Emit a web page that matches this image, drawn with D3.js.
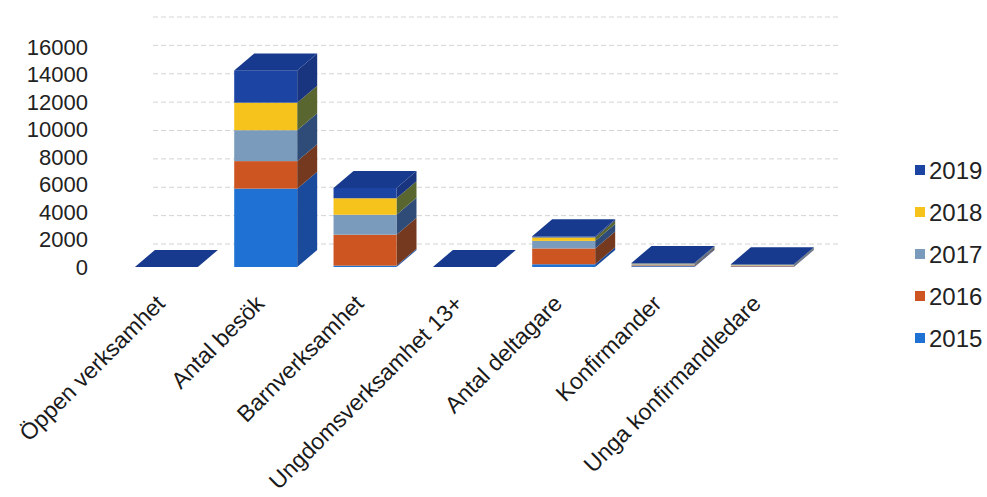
<!DOCTYPE html>
<html>
<head>
<meta charset="utf-8">
<script src="https://cdn.jsdelivr.net/npm/d3@7"></script>
<style>
  html, body { margin: 0; padding: 0; background: #fff; }
  svg { display: block; font-family: "Liberation Sans", Arial, sans-serif; }
</style>
</head>
<body>
<svg id="chart" width="987" height="497"></svg>
<script>
// Activity categories and yearly values (stacked 2015 → 2019)
const categories = ["Öppen verksamhet", "Antal besök", "Barnverksamhet", "Ungdomsverksamhet 13+",
                    "Antal deltagare", "Konfirmander", "Unga konfirmandledare"];
const years = ["2015", "2016", "2017", "2018", "2019"];
const values2015 = [0, 5700, 100, 0, 200, 60, 40];
const values2016 = [0, 2000, 2250, 0, 1150, 60, 40];
const values2017 = [0, 2250, 1450, 0, 550, 80, 40];
const values2018 = [0, 2000, 1200, 0, 250, 50, 40];
const values2019 = [0, 2350, 750, 0, 80, 50, 40];
const yTicks = [0, 2000, 4000, 6000, 8000, 10000, 12000, 14000, 16000];

const seriesValues = [values2015, values2016, values2017, values2018, values2019];
const frontColor = ["#1f72d4", "#cc5522", "#7b9bbd", "#f6c21c", "#1c44a2"];
const sideColor  = ["#1a4a9c", "#74391f", "#2f4c78", "#5a6630", "#1a3580"];
const topColor = "#173a8e";

const svg = d3.select("#chart");

// Front plane scale (bars + axis labels) and back wall scale (gridlines)
const yFront = d3.scaleLinear().domain([0, 16000]).range([267, 47]);
const yBack  = d3.scaleLinear().domain([0, 16000]).range([244, 17]);
const x = d3.scaleBand().domain(categories).range([116.7, 812]).paddingInner(0.366).paddingOuter(0.183);
const depthX = 20, depthY = -17;

// Back wall gridlines
svg.append("g").selectAll("line").data(yTicks).join("line")
  .attr("x1", 153).attr("x2", 838)
  .attr("y1", d => yBack(d)).attr("y2", d => yBack(d))
  .attr("stroke", "#d4d4d4").attr("stroke-width", 1)
  .attr("stroke-dasharray", "5 3");

// Stack layout
const rows = categories.map((c, i) => {
  const r = { category: c };
  years.forEach((yr, s) => r[yr] = seriesValues[s][i]);
  return r;
});
const stacked = d3.stack().keys(years)(rows);

const bars = svg.append("g");
categories.forEach((cat, i) => {
  const g = bars.append("g");
  const x0 = x(cat), w = x.bandwidth();
  stacked.forEach((layer, s) => {
    const [v0, v1] = layer[i];
    if (v1 - v0 <= 0) return;
    const yb = yFront(v0), yt = yFront(v1);
    g.append("polygon")
      .attr("points", [[x0 + w, yt], [x0 + w + depthX, yt + depthY], [x0 + w + depthX, yb + depthY], [x0 + w, yb]].join(" "))
      .attr("fill", sideColor[s]);
    g.append("rect")
      .attr("x", x0).attr("y", yt).attr("width", w).attr("height", yb - yt)
      .attr("fill", frontColor[s]);
  });
  const total = stacked[stacked.length - 1][i][1];
  const yt = yFront(total);
  g.append("polygon")
    .attr("points", [[x0, yt], [x0 + depthX, yt + depthY], [x0 + w + depthX, yt + depthY], [x0 + w, yt]].join(" "))
    .attr("fill", topColor);
});

// Value axis labels
const yAxis = svg.append("g").attr("transform", "translate(88,0)")
  .call(d3.axisLeft(yFront).tickValues(yTicks).tickFormat(d3.format("d")).tickSize(0).tickPadding(0));
yAxis.select(".domain").remove();
yAxis.selectAll("text")
  .attr("font-size", 22).attr("fill", "#222").attr("font-family", "Liberation Sans, Arial, sans-serif");

// Category labels, rotated
const xAxis = svg.append("g").attr("transform", "translate(0,305)")
  .call(d3.axisBottom(x).tickSize(0).tickPadding(0));
xAxis.select(".domain").remove();
xAxis.selectAll("text")
  .attr("y", 0).attr("dy", 0).attr("x", 0)
  .attr("text-anchor", "end")
  .attr("transform", "rotate(-45)")
  .attr("font-size", 23).attr("fill", "#1a1a1a").attr("font-family", "Liberation Sans, Arial, sans-serif");

// Legend (latest year on top)
const legendYears = years.slice().reverse();
const legend = svg.append("g").selectAll("g").data(legendYears).join("g")
  .attr("transform", (d, k) => `translate(915,${170 + k * 42})`);
legend.append("rect")
  .attr("x", 0).attr("y", -5).attr("width", 10).attr("height", 10)
  .attr("fill", d => frontColor[years.indexOf(d)]);
legend.append("text")
  .attr("x", 14).attr("y", 0).attr("dy", "0.36em")
  .attr("font-size", 24).attr("fill", "#222")
  .text(d => d);
</script>
</body>
</html>
